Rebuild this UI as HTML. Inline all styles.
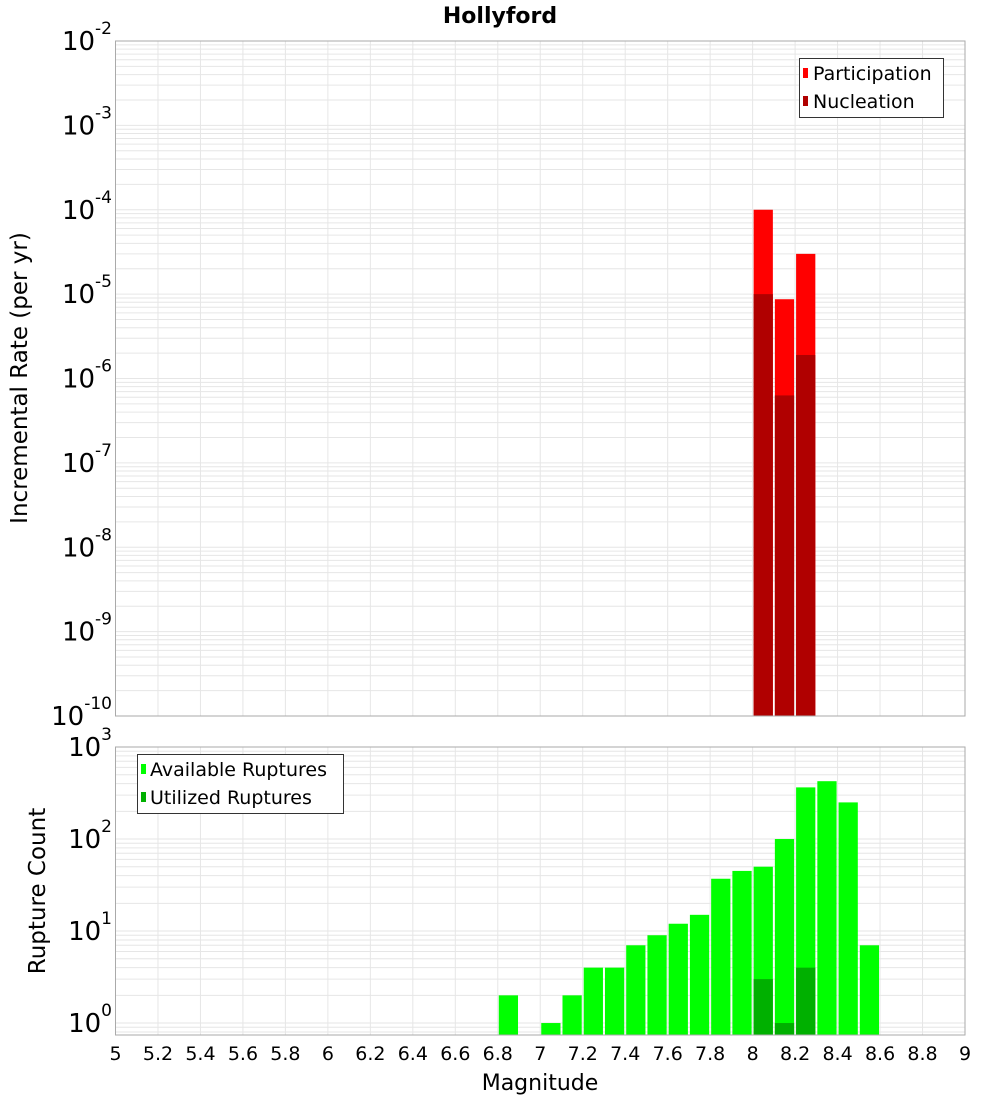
<!DOCTYPE html>
<html><head><meta charset="utf-8"><style>
body{margin:0;background:#fff;}
svg{display:block;font-family:"DejaVu Sans","Liberation Sans",sans-serif;}
</style></head><body>
<svg id="c" width="1000" height="1100" xmlns="http://www.w3.org/2000/svg"></svg>
<script>
const magBins=[8.0,8.1,8.2];
const participation=[1.0e-4,8.7e-6,3.0e-5];
const nucleation=[1.0e-5,6.3e-7,1.9e-6];
const countBins=[6.8,7.0,7.1,7.2,7.3,7.4,7.5,7.6,7.7,7.8,7.9,8.0,8.1,8.2,8.3,8.4,8.5];
const available=[2,1,2,4,4,7,9,12,15,37,45,50,100,364,425,250,7];
const utilBins=[8.0,8.1,8.2];
const utilized=[3,1,4];
const xTicks=[5,5.2,5.4,5.6,5.8,6,6.2,6.4,6.6,6.8,7,7.2,7.4,7.6,7.8,8,8.2,8.4,8.6,8.8,9];
const topExps=[-2,-3,-4,-5,-6,-7,-8,-9,-10];
const botExps=[3,2,1,0];

const NS="http://www.w3.org/2000/svg";
const svg=document.getElementById('c');
function el(t,a,p){const e=document.createElementNS(NS,t);for(const k in a)e.setAttribute(k,a[k]);(p||svg).appendChild(e);return e;}
const L=115.5,R=965;
const X=m=>L+(m-5)/4*(R-L);
const T={top:41,bot:716,max:-2,min:-10};
const B={top:747,bot:1035,max:3,min:-0.13};
const Yt=v=>T.top+(T.max-Math.log10(v))/(T.max-T.min)*(T.bot-T.top);
const Yb=v=>B.top+(B.max-Math.log10(v))/(B.max-B.min)*(B.bot-B.top);

function grid(P,Y,exps){
  const g=el('g',{});
  
  
  xTicks.forEach(t=>el('line',{x1:X(t),x2:X(t),y1:P.top,y2:P.bot,stroke:'#e6e6e6','stroke-width':1},g));
  for(let e=Math.floor(P.min)-1;e<=P.max;e++)for(let k=1;k<10;k++){
    const v=k*Math.pow(10,e);const y=Y(v);
    if(y<P.top-0.5||y>P.bot+0.5)continue;
    el('line',{x1:L,x2:R,y1:y,y2:y,stroke:'#e6e6e6','stroke-width':1},g);
  }
}
function frame(P,name){
  const r=el('rect',{x:L,y:P.top,width:R-L,height:P.bot-P.top,fill:'none',stroke:'#aaa','stroke-width':1});
  
  
}
function yLabels(P,Y,exps,name){
  exps.forEach(e=>{
    const y=Y(Math.pow(10,e));
    const t=el('text',{x:112,y:y+9,'text-anchor':'end','font-size':26,fill:'#000'});
    
    
    const a=el('tspan',{},t);a.textContent='10';
    const b=el('tspan',{'font-size':17,dy:-16},t);b.textContent=String(e);
  });
}
function bars(bins,vals,Y,P,color,name){
  bins.forEach((m,i)=>{
    const y=Y(vals[i]);
    const r=el('rect',{x:X(m)+1,y:y,width:X(m+0.1)-X(m)-2,height:P.bot-y,fill:color});
    
    
  });
}
grid(T,Yt,topExps);
bars(magBins,participation,Yt,T,'#ff0000','participation-bar');
bars(magBins,nucleation,Yt,T,'#b00000','nucleation-bar');
frame(T,'rate-plot-frame');
yLabels(T,Yt,topExps,'rate-y-tick');
grid(B,Yb,botExps);
bars(countBins,available,Yb,B,'#00ff00','available-bar');
bars(utilBins,utilized,Yb,B,'#00b000','utilized-bar');
frame(B,'count-plot-frame');
yLabels(B,Yb,botExps,'count-y-tick');
xTicks.forEach(t=>{
  const tx=el('text',{x:X(t),y:1060,'text-anchor':'middle','font-size':19,fill:'#000'});
  
  
  tx.textContent=String(t);
});
</script>
<svg width="1000" height="1100" style="position:absolute;left:0;top:0" xmlns="http://www.w3.org/2000/svg" font-family="DejaVu Sans, Liberation Sans, sans-serif">
<text x="500" y="23" text-anchor="middle" font-size="22" font-weight="bold">Hollyford</text>
<text x="540" y="1090" text-anchor="middle" font-size="22">Magnitude</text>
<text transform="translate(27,378) rotate(-90)" text-anchor="middle" font-size="23">Incremental Rate (per yr)</text>
<text transform="translate(45,891) rotate(-90)" text-anchor="middle" font-size="23">Rupture Count</text>
<g>
<rect x="799.5" y="58.5" width="144" height="59" fill="#fff" stroke="#333"/>
<rect x="803" y="68" width="5" height="10" fill="#ff0000"/>
<text x="813" y="80" font-size="19">Participation</text>
<rect x="803" y="96" width="5" height="10" fill="#b00000"/>
<text x="813" y="108" font-size="19">Nucleation</text>
</g>
<g>
<rect x="137.5" y="754.5" width="206" height="59" fill="#fff" stroke="#333"/>
<rect x="141" y="764" width="5" height="10" fill="#00ff00"/>
<text x="150" y="776" font-size="19">Available Ruptures</text>
<rect x="141" y="792" width="5" height="10" fill="#00b000"/>
<text x="150" y="804" font-size="19">Utilized Ruptures</text>
</g>
</svg>
</body></html>
